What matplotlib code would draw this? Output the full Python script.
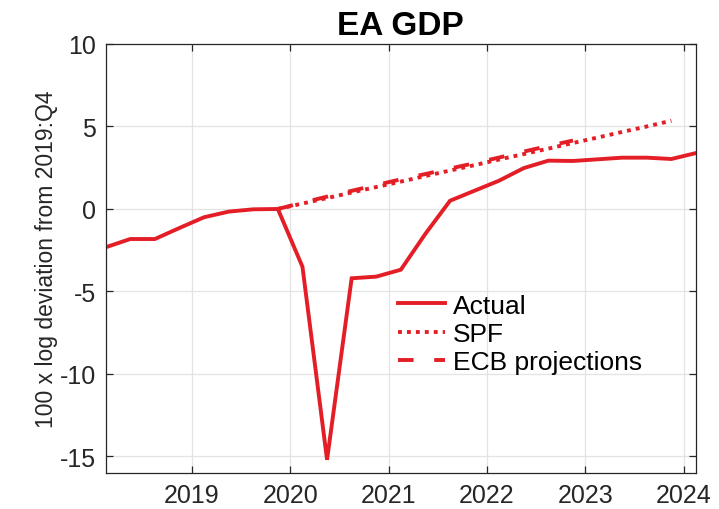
import matplotlib
matplotlib.use("Agg")
import matplotlib.pyplot as plt
import numpy as np

plt.rcParams['font.family'] = ['Liberation Sans', 'DejaVu Sans']

# Quarterly series, 2018Q1 .. 2024Q1
start_year = 2018
actual = [-2.32, -1.82, -1.82, -1.15,
          -0.50, -0.16, -0.02, 0.00,
          -3.50, -15.20, -4.20, -4.10,
          -3.68, -1.50, 0.50, 1.11,
          1.72, 2.48, 2.93, 2.91,
          3.01, 3.11, 3.11, 3.03,
          3.39]
# SPF: 2019Q4 .. 2023Q4
spf = [0.00, 0.33, 0.66, 1.00, 1.33, 1.66, 2.00, 2.33, 2.66,
       3.00, 3.33, 3.66, 4.00, 4.33, 4.67, 5.00, 5.35]
# ECB projections: 2019Q4 .. 2022Q4
ecb = [0.00, 0.38, 0.75, 1.10, 1.45, 1.80, 2.12, 2.45, 2.78,
       3.12, 3.48, 3.82, 4.15]

xticks = [2019, 2020, 2021, 2022, 2023, 2024]
yticks = [-15, -10, -5, 0, 5, 10]

def qdates(first_index, n):
    return np.array([start_year + (first_index + i) / 4 + 0.125 for i in range(n)])

x_act = qdates(0, len(actual))
x_spf = qdates(7, len(spf))
x_ecb = qdates(7, len(ecb))

red = '#e41e26'
fig = plt.figure(figsize=(7.19, 5.10), dpi=100)
ax = fig.add_axes([0.147, 0.0706, 0.821, 0.8412])

lw = 2.8
ax.plot(x_act, actual, color=red, lw=lw, label='Actual', solid_joinstyle='miter')
ax.plot(x_spf, spf, color=red, lw=lw, ls=(0, (1.0, 1.3)), label='SPF')
ax.plot(x_ecb, ecb, color=red, lw=lw, ls=(0, (4, 5.3)), label='ECB projections')

ax.set_xlim(x_act[0], x_act[-1])
ax.set_ylim(-16, 10)
ax.set_xticks(xticks)
ax.set_yticks(yticks)
ax.set_xticklabels([str(t) for t in xticks])
ax.set_yticklabels([str(t) for t in yticks])
ax.grid(True, color='#e3e3e3', lw=0.9)
ax.set_axisbelow(True)
for s in ax.spines.values():
    s.set_color('#262626')
    s.set_linewidth(0.9)
ax.tick_params(direction='in', length=5, width=0.9, color='#262626',
               top=True, right=True, labelsize=18, labelcolor='#262626', pad=7)
ax.set_ylabel('100 x log deviation from 2019:Q4', fontsize=16.5, color='#262626', labelpad=1)
ax.set_title('EA GDP', fontsize=24, fontweight='bold', pad=7)

leg = ax.legend(loc='upper left', bbox_to_anchor=(0.495, 0.418), frameon=False,
                fontsize=19, handlelength=1.8, handletextpad=0.27,
                labelspacing=0.16, borderaxespad=0, borderpad=0)

fig.savefig('out.png', dpi=100)
